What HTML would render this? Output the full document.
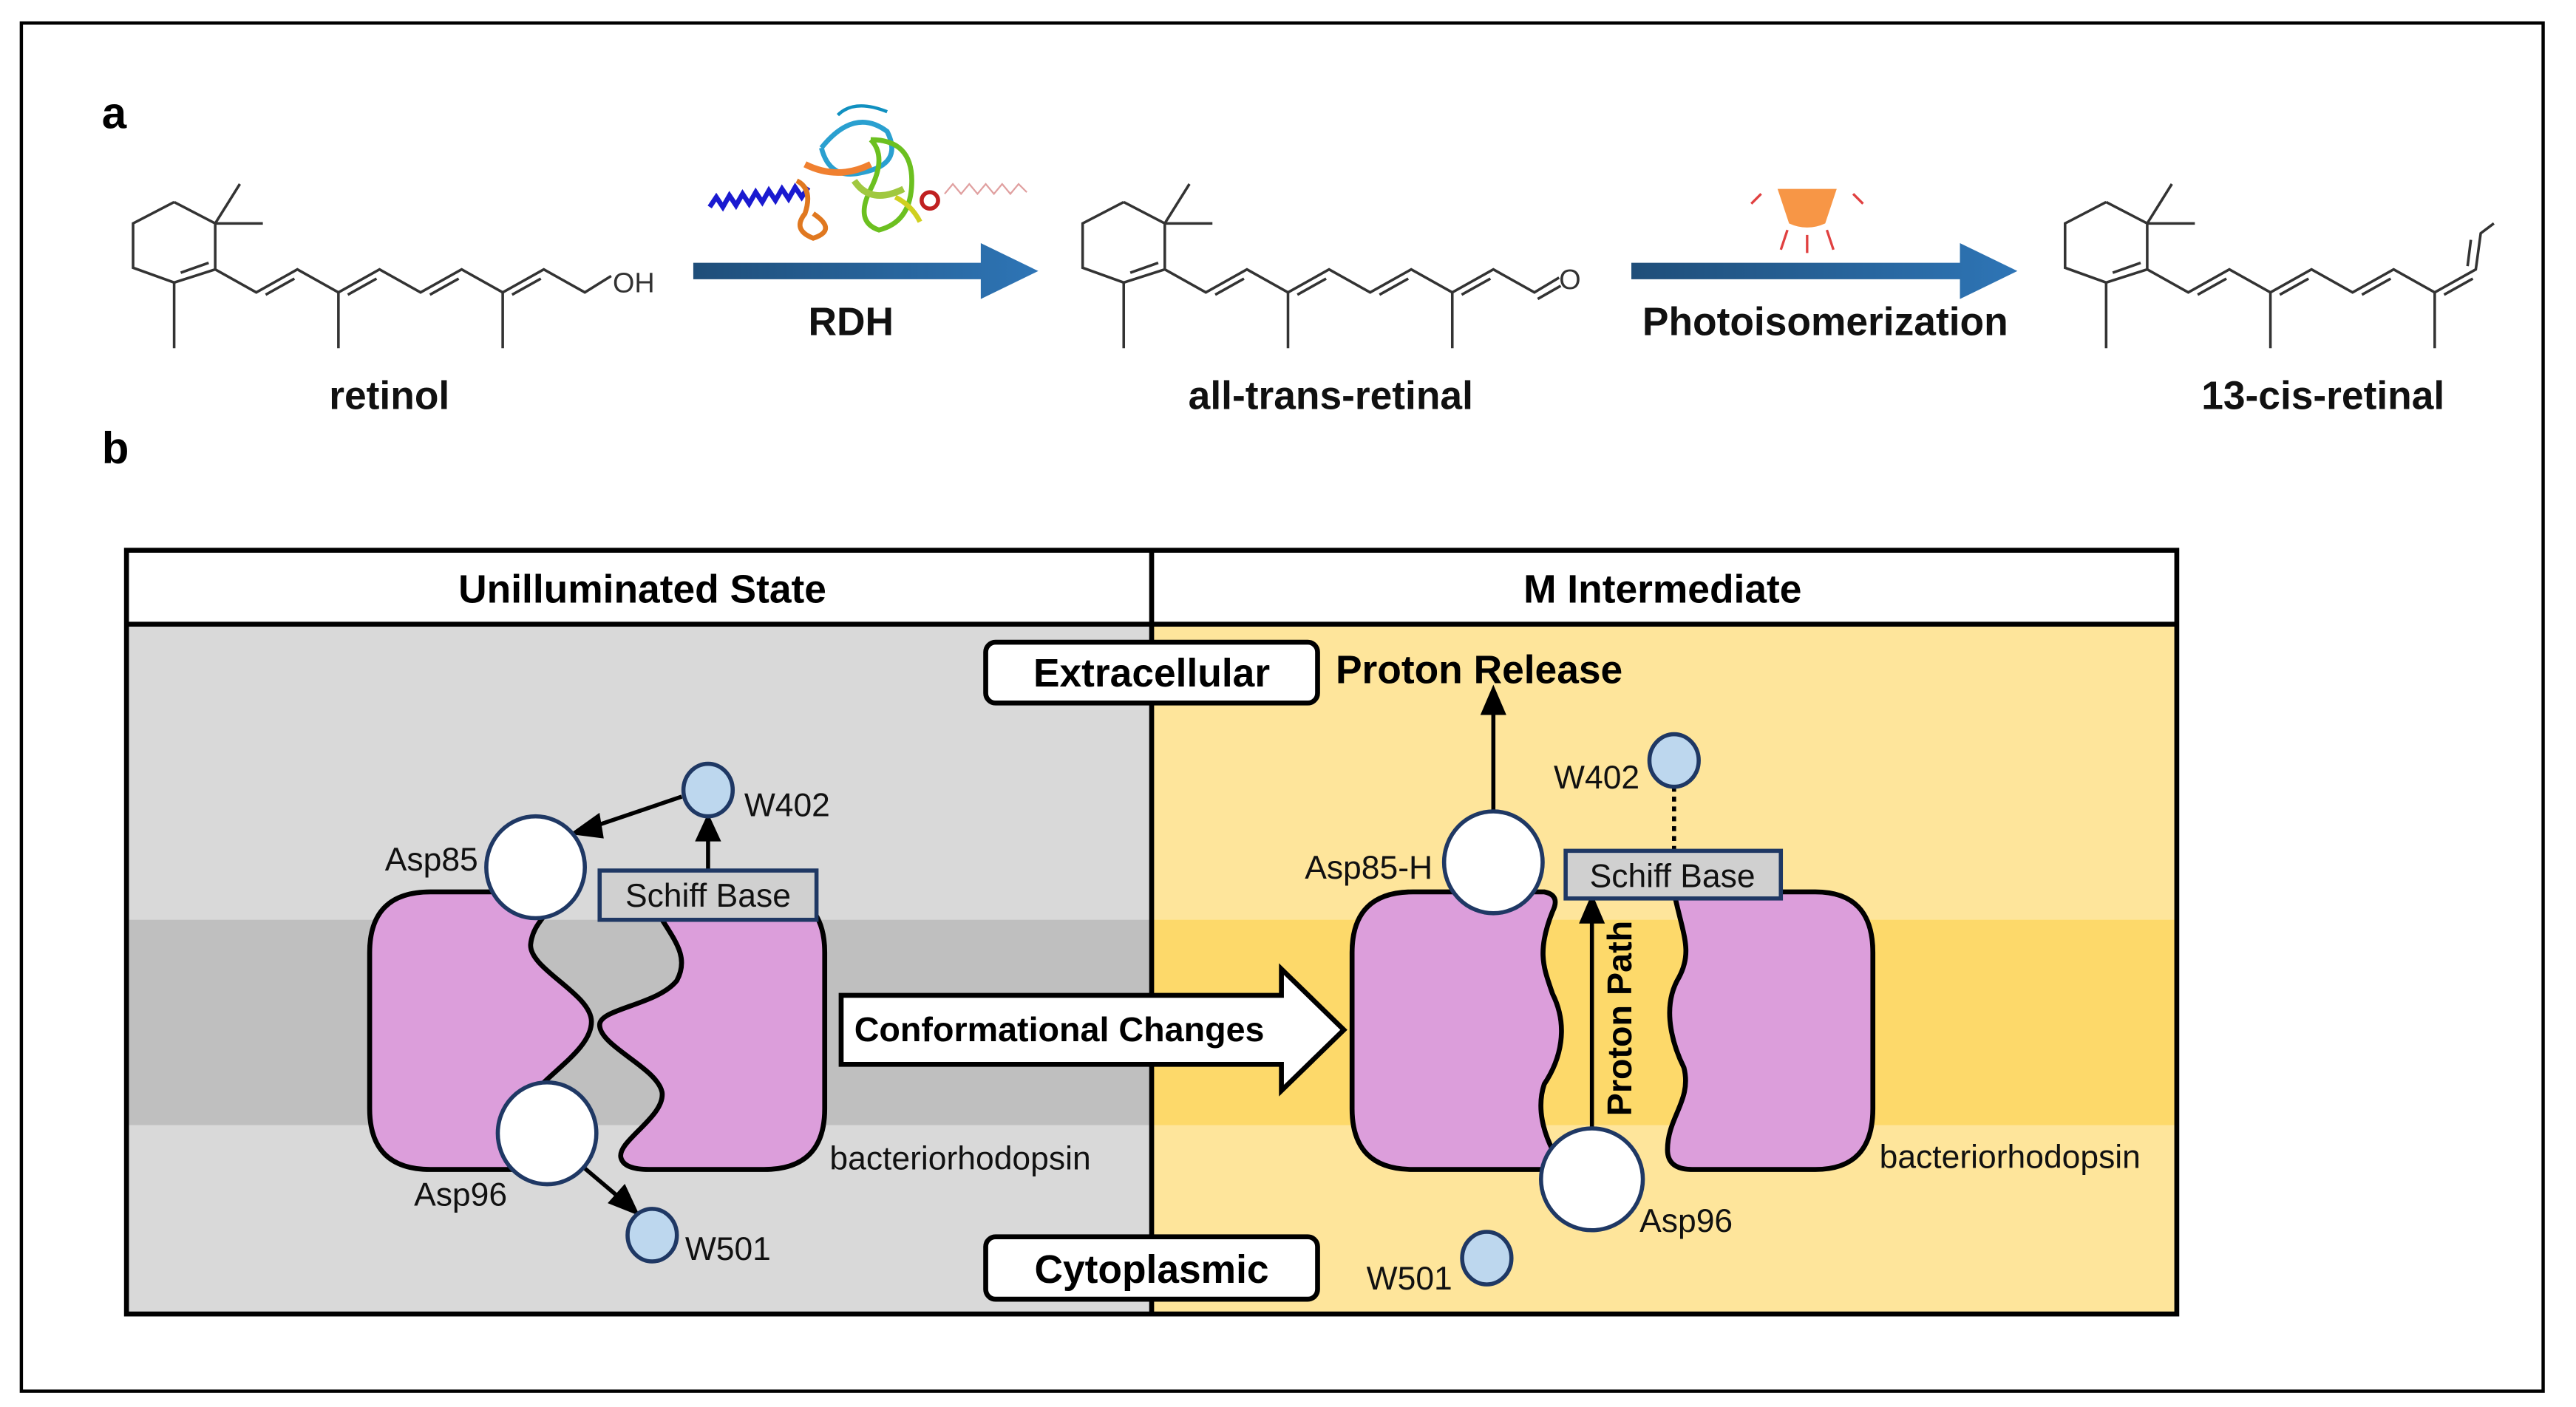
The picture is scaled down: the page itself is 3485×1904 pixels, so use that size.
<!DOCTYPE html>
<html><head><meta charset="utf-8"><style>
html,body{margin:0;padding:0;background:#fff;}
svg{display:block;}
text{font-family:"Liberation Sans",Arial,sans-serif;}
</style></head><body>
<svg width="3485" height="1904" viewBox="0 0 1568 856.6" xmlns="http://www.w3.org/2000/svg">
<defs>
<linearGradient id="bg" x1="0" x2="1" y1="0" y2="0"><stop offset="0" stop-color="#1f4e79"/><stop offset="1" stop-color="#2e75b6"/></linearGradient>
<g id="ringchain" fill="none" stroke="#333" stroke-width="1.6">
  <polyline points="106,123 81,136 81,163 106,172 131,164 131,136 106,123"/>
  <line x1="131" y1="136" x2="146" y2="112"/><line x1="131" y1="136" x2="160" y2="136"/>
  <line x1="106" y1="172" x2="106" y2="212"/>
  <line x1="110" y1="166" x2="127" y2="160"/>
  <polyline points="131,164 156,178 181,164 206,178 231,164 256,178 281,164 306,178"/>
  <line x1="206" y1="178" x2="206" y2="212"/><line x1="306" y1="178" x2="306" y2="212"/>
  <line x1="161.7" y1="179.4" x2="179.2" y2="169.6"/><line x1="211.7" y1="179.4" x2="229.2" y2="169.6"/>
  <line x1="261.7" y1="179.4" x2="279.2" y2="169.6"/>
</g>
</defs>
<rect x="0" y="0" width="1568" height="856.6" fill="#fff"/>
<rect x="13" y="14" width="1535" height="833" fill="none" stroke="#000" stroke-width="2"/>
<text x="62" y="78" font-size="27" font-weight="bold">a</text>
<text x="62" y="282" font-size="27" font-weight="bold">b</text>

<!-- retinol -->
<use href="#ringchain"/>
<g fill="none" stroke="#333" stroke-width="1.6">
<polyline points="306,178 331,164 356,178 372,168"/><line x1="311.7" y1="179.4" x2="329.2" y2="169.6"/>
</g>
<text x="373" y="178" font-size="17" fill="#333">OH</text>
<!-- all-trans-retinal -->
<g transform="translate(578,0)"><use href="#ringchain"/>
<g fill="none" stroke="#333" stroke-width="1.6">
<polyline points="306,178 331,164 356,178 371,169"/><line x1="311.7" y1="179.4" x2="329.2" y2="169.6"/><line x1="358" y1="182" x2="372" y2="174"/>
</g><text x="371" y="176" font-size="17" fill="#333">O</text></g>
<!-- 13-cis -->
<g transform="translate(1176,0)"><use href="#ringchain"/>
<g fill="none" stroke="#333" stroke-width="1.6">
<polyline points="306,178 331,164 334,142 342,136"/><line x1="311.7" y1="179.4" x2="329.2" y2="169.6"/><line x1="326" y1="162" x2="328" y2="146"/>
</g></g>

<!-- arrows -->
<path d="M422,160 H597 V148 L632,165 L597,182 V170 H422 Z" fill="url(#bg)"/>
<path d="M993,160 H1193 V148 L1228,165 L1193,182 V170 H993 Z" fill="url(#bg)"/>
<!-- protein image approx -->
<g fill="none" stroke-width="3">
<path d="M432,126 l4,-6 4,6 4,-7 4,6 4,-7 4,6 4,-7 4,6 4,-7 4,6 4,-7 4,6 4,-7 4,6 4,-6" stroke="#1a1ad0"/>
<path d="M485,110 q10,5 5,20 q-8,10 5,15 q15,-5 0,-15" stroke="#e07820"/>
<path d="M500,90 q20,-25 40,-10 q10,20 -15,25 q-20,5 -25,-15" stroke="#2aa0d0"/>
<path d="M530,85 q25,0 25,25 q0,25 -20,30 q-15,-5 -5,-25 q10,-20 0,-30" stroke="#6cc020"/>
<path d="M510,70 q10,-10 30,-2" stroke="#1090c0" stroke-width="2"/>
<path d="M545,120 q10,5 15,15" stroke="#d0d020"/>
<circle cx="566" cy="122" r="5" stroke="#c02020" stroke-width="2.5"/>
<path d="M575,118 l5,-6 5,6 5,-6 5,6 5,-6 5,6 5,-6 5,6 5,-6 5,5" stroke="#e0a0a0" stroke-width="1"/>
<path d="M490,100 q20,10 40,0" stroke="#f08030" stroke-width="4"/>
<path d="M520,110 q10,15 30,5" stroke="#a0c840" stroke-width="4"/>
</g>
<!-- lamp -->
<path d="M1082,115 H1118 L1111,136 Q1100,141 1089,136 Z" fill="#f79646"/>
<g stroke="#e04040" stroke-width="1.5"><line x1="1072" y1="118" x2="1066" y2="124"/><line x1="1128" y1="118" x2="1134" y2="124"/><line x1="1088" y1="140" x2="1084" y2="152"/><line x1="1100" y1="143" x2="1100" y2="154"/><line x1="1112" y1="140" x2="1116" y2="152"/></g>

<g font-size="24" font-weight="bold" text-anchor="middle" fill="#111">
<text x="518" y="204">RDH</text>
<text x="1111" y="204">Photoisomerization</text>
<text x="237" y="249">retinol</text>
<text x="810" y="249">all-trans-retinal</text>
<text x="1414" y="249">13-cis-retinal</text>
</g>

<!-- panel b -->
<rect x="77" y="380" width="624" height="420" fill="#d9d9d9"/>
<rect x="77" y="560" width="624" height="125" fill="#bfbfbf"/>
<rect x="701" y="380" width="624" height="420" fill="#fee59b"/>
<rect x="701" y="560" width="624" height="125" fill="#fdd96a"/>
<rect x="77" y="335" width="1248" height="45" fill="#fff"/>
<rect x="77" y="335" width="1248" height="465" fill="none" stroke="#000" stroke-width="3"/>
<line x1="77" y1="380" x2="1325" y2="380" stroke="#000" stroke-width="3"/>
<line x1="701" y1="335" x2="701" y2="800" stroke="#000" stroke-width="3"/>
<text x="391" y="367" font-size="24" font-weight="bold" text-anchor="middle">Unilluminated State</text>
<text x="1012" y="367" font-size="24" font-weight="bold" text-anchor="middle">M Intermediate</text>

<g stroke="#000" stroke-width="3" fill="#dc9edb">
<path d="M300,543 H262 Q225,543 225,580 V675 Q225,712 262,712 H315 L320,672 C330,655 360,640 360,622 C360,605 322,590 323,575 C324,565 330,560 333,555 Z"/>
<path d="M400,555 C410,572 420,582 412,597 C400,612 365,614 365,624 C365,637 400,650 403,665 C405,680 375,695 378,705 Q380,712 395,712 H465 Q502,712 502,675 V580 Q502,543 465,543 H400 Z"/>
<path d="M870,543 H940 Q950,545 945,555 C935,580 940,590 945,605 C955,625 950,645 940,660 C935,675 940,690 945,700 L945,712 H860 Q823,712 823,675 V580 Q823,543 860,543 Z"/>
<path d="M1020,548 C1025,570 1030,580 1022,595 C1010,615 1020,640 1025,650 C1030,670 1015,680 1015,700 Q1015,712 1030,712 H1105 Q1140,712 1140,675 V580 Q1140,543 1105,543 H1020 Z"/>
</g>

<g stroke="#000" stroke-width="2.5" fill="#000">
<line x1="415" y1="485" x2="362" y2="503"/><path d="M350,507 L364,497 L366,509 Z"/>
<line x1="431" y1="530" x2="431" y2="510"/><path d="M431,498 L425,511 L437,511 Z"/>
<line x1="352" y1="708" x2="378" y2="730"/><path d="M387,738 L372,732 L380,723 Z"/>
<line x1="909" y1="494" x2="909" y2="433"/><path d="M909,420 L903,434 L915,434 Z"/>
<line x1="969" y1="688" x2="969" y2="560"/><path d="M969,547 L963,561 L975,561 Z"/>
</g>
<line x1="1019" y1="479" x2="1019" y2="518" stroke="#000" stroke-width="2.5" stroke-dasharray="3,3"/>
<g stroke="#1f3864" stroke-width="2.5">
<ellipse cx="326" cy="528" rx="30" ry="31" fill="#fff"/>
<ellipse cx="333" cy="690" rx="30" ry="31" fill="#fff"/>
<ellipse cx="431" cy="481" rx="15" ry="16" fill="#bdd7ee"/>
<ellipse cx="397" cy="752" rx="15" ry="16" fill="#bdd7ee"/>
<rect x="365" y="530" width="132" height="30" fill="#d0d0d0"/>
<ellipse cx="909" cy="525" rx="30" ry="31" fill="#fff"/>
<ellipse cx="969" cy="718" rx="31" ry="31" fill="#fff"/>
<ellipse cx="1019" cy="463" rx="15" ry="16" fill="#bdd7ee"/>
<ellipse cx="905" cy="766" rx="15" ry="16" fill="#bdd7ee"/>
<rect x="953" y="518" width="131" height="29" fill="#d0d0d0"/>
</g>
<g font-size="20" fill="#111">
<text x="431" y="552" text-anchor="middle">Schiff Base</text>
<text x="1018" y="540" text-anchor="middle">Schiff Base</text>
<text x="291" y="530" text-anchor="end">Asp85</text>
<text x="453" y="497">W402</text>
<text x="252" y="734">Asp96</text>
<text x="417" y="767">W501</text>
<text x="505" y="712">bacteriorhodopsin</text>
<text x="872" y="535" text-anchor="end">Asp85-H</text>
<text x="998" y="480" text-anchor="end">W402</text>
<text x="998" y="750">Asp96</text>
<text x="884" y="785" text-anchor="end">W501</text>
<text x="1144" y="711">bacteriorhodopsin</text>
</g>
<text transform="translate(993,620) rotate(-90)" font-size="21" font-weight="bold" text-anchor="middle">Proton Path</text>

<path d="M512,606 H780 V590 L818,627 L780,664 V648 H512 Z" fill="#fff" stroke="#000" stroke-width="3"/>
<text x="520" y="634" font-size="21" font-weight="bold">Conformational Changes</text>

<rect x="600" y="391" width="202" height="37" rx="6" fill="#fff" stroke="#000" stroke-width="3"/>
<text x="701" y="418" font-size="24" font-weight="bold" text-anchor="middle">Extracellular</text>
<rect x="600" y="753" width="202" height="38" rx="6" fill="#fff" stroke="#000" stroke-width="3"/>
<text x="701" y="781" font-size="24" font-weight="bold" text-anchor="middle">Cytoplasmic</text>
<text x="813" y="416" font-size="24" font-weight="bold">Proton Release</text>
</svg>
</body></html>
